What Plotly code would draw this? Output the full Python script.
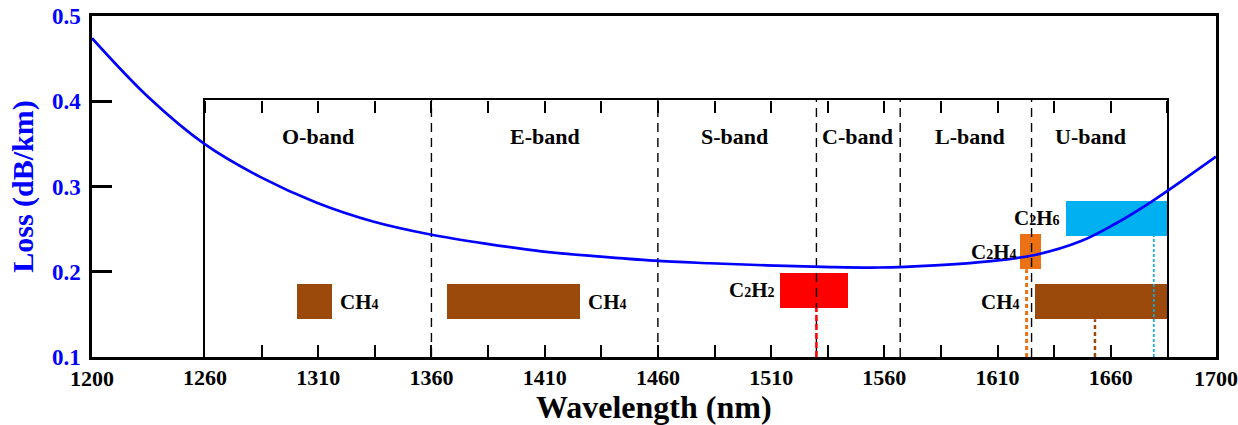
import plotly.graph_objects as go

# Fibre attenuation curve (outer axes)
wavelength_nm = [1200, 1225, 1250, 1275, 1300, 1325, 1350, 1375, 1400, 1425, 1450, 1475,
                 1500, 1525, 1550, 1575, 1600, 1620, 1640, 1655, 1670, 1685, 1700]
loss_db_km = [0.474, 0.405, 0.350, 0.311, 0.281, 0.259, 0.244, 0.233, 0.224, 0.218, 0.213,
              0.210, 0.2075, 0.2058, 0.205, 0.2075, 0.2125, 0.220, 0.236, 0.256, 0.280,
              0.307, 0.335]

# Telecom bands (inner axes)
band_dividers = [1360, 1460, 1530, 1567, 1625]
band_names = ["O-band", "E-band", "S-band", "C-band", "L-band", "U-band"]
band_label_x = [1310, 1410, 1494, 1548, 1598, 1651]
band_label_y = 8.56

# Gas absorption regions (inner axes)
sub = "<span style='font-size:14px'>{}</span>"
gas_labels = ["CH" + sub.format(4),
              "CH" + sub.format(4),
              "C" + sub.format(2) + "H" + sub.format(2),
              "C" + sub.format(2) + "H" + sub.format(4),
              "C" + sub.format(2) + "H" + sub.format(6),
              "CH" + sub.format(4)]
gas_start = [1300.6, 1366.7, 1514, 1620, 1640, 1626.5]
gas_end = [1316, 1425.6, 1544, 1629, 1685, 1685]
gas_row = [2.155, 2.155, 2.6, 4.1, 5.4, 2.155]
gas_colors = ["#9C4A0C", "#9C4A0C", "#FF0000", "#EC7114", "#00B0F0", "#9C4A0C"]
gas_label_side = ["right", "right", "left", "left", "left", "left"]
gas_label_gap = [8, 8, 5, 3, 6, 15]

# Peak markers below the bars
peak_x = [1530, 1622.8, 1653, 1679]
peak_top = [1.915, 3.415, 1.47, 4.715]
peak_colors = ["#FF0000", "#EC7114", "#9C4A0C", "#00B0F0"]
peak_dash = ["6px,3px", "4px,3px", "4px,3px", "3px,2px"]
peak_width = [2.5, 3, 2.5, 1.6]

bar_height = 1.37
serif = "Liberation Serif"
inner_range = [1260, 1685]
inner_domain_x = [0.1005, 0.9568]
inner_domain_y = [0, 0.7537]

fig = go.Figure()

# Band dividers
for xd in band_dividers:
    fig.add_trace(go.Scatter(x=[xd, xd], y=[0, 10], mode="lines",
                             line=dict(color="black", width=1.4, dash="9px,6px"),
                             showlegend=False, hoverinfo="skip"))

# Peak marker lines
for px, pt, pc, pd, pw in zip(peak_x, peak_top, peak_colors, peak_dash, peak_width):
    fig.add_trace(go.Scatter(x=[px, px], y=[0, pt], mode="lines",
                             line=dict(color=pc, width=pw, dash=pd),
                             showlegend=False, hoverinfo="skip"))

# Gas bars
for s, e, r, c in zip(gas_start, gas_end, gas_row, gas_colors):
    fig.add_trace(go.Bar(x=[e - s], base=[s], y=[r], orientation="h", width=bar_height,
                         marker=dict(color=c, line=dict(width=0)),
                         showlegend=False, hoverinfo="skip"))

# Loss curve on the outer axes, drawn above the inner panel
fig.add_trace(go.Scatter(x=wavelength_nm, y=loss_db_km, xaxis="x2", yaxis="y2",
                         mode="lines", line_shape="spline",
                         line=dict(color="#0000FF", width=2.7), showlegend=False))

# thin strip under the inner panel's top edge that carries its top tick marks
fig.add_trace(go.Scatter(x=[inner_range[0]], y=[0], xaxis="x3", yaxis="y3", mode="markers",
                         marker=dict(opacity=0), showlegend=False, hoverinfo="skip"))

annotations = []
for name, bx in zip(band_names, band_label_x):
    annotations.append(dict(x=bx, y=band_label_y, xref="x", yref="y", text=name,
                            showarrow=False, font=dict(family=serif, size=22, color="black",
                                                       weight="bold")))
for lab, s, e, r, side, gap in zip(gas_labels, gas_start, gas_end, gas_row,
                                   gas_label_side, gas_label_gap):
    if side == "right":
        annotations.append(dict(x=e, y=r, xref="x", yref="y", text=lab, showarrow=False,
                                xanchor="left", xshift=gap - 2,
                                font=dict(family=serif, size=21, color="black", weight="bold")))
    else:
        annotations.append(dict(x=s, y=r, xref="x", yref="y", text=lab, showarrow=False,
                                xanchor="right", xshift=-gap + 2,
                                font=dict(family=serif, size=21, color="black", weight="bold")))
annotations.append(dict(x=0.5, y=-0.147, xref="paper", yref="paper", text="Wavelength (nm)",
                        showarrow=False, yanchor="middle",
                        font=dict(family=serif, size=32, color="black", weight="bold")))

tick_font = dict(family=serif, size=22, color="black", weight="bold")
top_y = inner_domain_y[1]

fig.update_layout(
    width=1238, height=425,
    margin=dict(l=92, r=22, t=16, b=68, autoexpand=False),
    paper_bgcolor="white", plot_bgcolor="rgba(0,0,0,0)",
    bargap=0, barmode="overlay",
    annotations=annotations,
    # inner panel: wavelength bands
    xaxis=dict(domain=inner_domain_x, anchor="y", range=inner_range, tick0=1260, dtick=50,
               ticks="inside", ticklen=12, tickwidth=2, tickcolor="black",
               minor=dict(dtick=25, tick0=1260, ticks="inside", ticklen=12, tickwidth=2,
                          tickcolor="black"),
               showgrid=False, zeroline=False, showline=True, linecolor="black", linewidth=2,
               mirror=True, automargin=False, tickfont=tick_font),
    yaxis=dict(domain=inner_domain_y, anchor="x", range=[0, 10], showticklabels=False, ticks="",
               showgrid=False, zeroline=False, showline=True, linecolor="black", linewidth=2,
               mirror=True, automargin=False),
    xaxis3=dict(domain=inner_domain_x, anchor="y3", side="bottom", range=inner_range,
                tick0=1260, dtick=50, ticks="outside", ticklen=12, tickwidth=2,
                tickcolor="black",
                minor=dict(dtick=25, tick0=1260, ticks="outside", ticklen=12, tickwidth=2,
                           tickcolor="black"),
                showticklabels=False, showgrid=False, zeroline=False, showline=False,
                automargin=False),
    yaxis3=dict(domain=[top_y, min(top_y + 0.02, 1)], anchor="x3", range=[0, 1], visible=False),
    # outer frame: loss curve
    xaxis2=dict(domain=[0, 1], anchor="y2", range=[1200, 1700], tickvals=[1200, 1700], ticks="",
                showgrid=False, zeroline=False, showline=True, linecolor="black", linewidth=2.5,
                mirror=True, automargin=False, tickfont=tick_font),
    yaxis2=dict(domain=[0, 1], anchor="x2", range=[0.1, 0.5],
                tickvals=[0.1, 0.2, 0.3, 0.4, 0.5], ticktext=["0.1", "0.2", "0.3", "0.4", "0.5"],
                ticks="inside", ticklen=20, tickwidth=2.5, tickcolor="black", showgrid=False,
                zeroline=False, showline=True, linecolor="black", linewidth=2.5, mirror=True,
                automargin=False, ticklabelstandoff=4,
                tickfont=dict(family=serif, size=23, color="#0000FF", weight="bold"),
                title=dict(text="Loss (dB/km)", standoff=10,
                           font=dict(family=serif, size=30, color="#0000FF", weight="bold"))),
)

fig.write_html("out.html")
